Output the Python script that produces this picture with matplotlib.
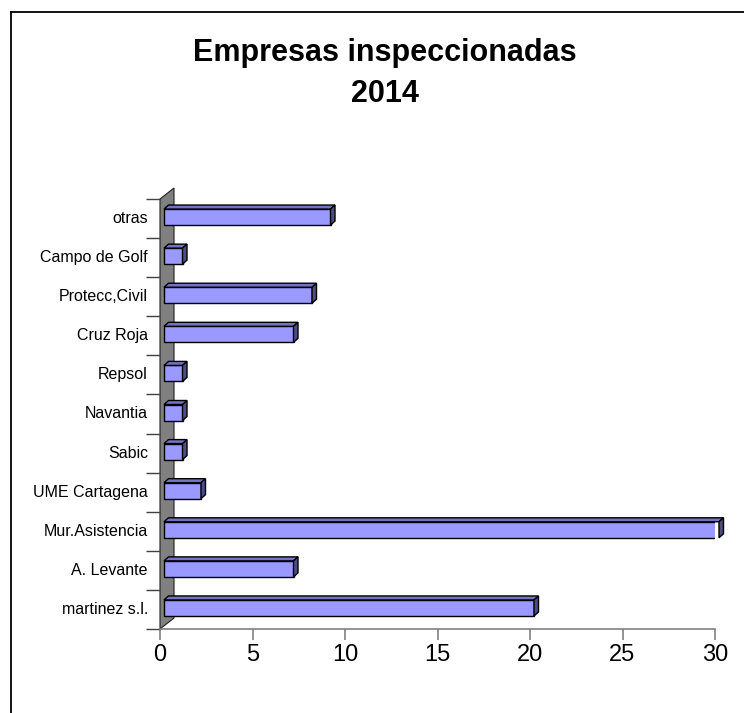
import numpy as np
import matplotlib
matplotlib.use("Agg")
import matplotlib.pyplot as plt
from matplotlib.patches import Polygon

# data (bottom to top, as drawn)
categories = ['martinez s.l.', 'A. Levante', 'Mur.Asistencia', 'UME Cartagena', 'Sabic',
              'Navantia', 'Repsol', 'Cruz Roja', 'Protecc,Civil', 'Campo de Golf', 'otras']
values = [20, 7, 30, 2, 1, 1, 1, 7, 8, 1, 9]
xticks = [0, 5, 10, 15, 20, 25, 30]

plt.rcParams['font.family'] = ['Liberation Sans', 'DejaVu Sans']

W, H = 744, 713
fig = plt.figure(figsize=(W / 100, H / 100), dpi=100)

# outer chart border (only left/top visible in the crop)
fig.add_artist(plt.Line2D([11 / W, 11 / W], [0, 1 - 12 / H], color='black', lw=1.3))
fig.add_artist(plt.Line2D([11 / W, 1], [1 - 12 / H, 1 - 12 / H], color='black', lw=1.3))

fig.text(385 / W, 1 - 53 / H, 'Empresas inspeccionadas', ha='center', va='center',
         fontsize=22, fontweight='bold')
fig.text(385 / W, 1 - 94 / H, '2014', ha='center', va='center',
         fontsize=22, fontweight='bold')

ax = fig.add_axes([160 / W, 84 / H, 555 / W, 430 / H])
ax.set_xlim(0, 30)
ax.set_ylim(-0.5, len(categories) - 0.5)
ax.patch.set_alpha(0)

# pixel -> data scale
px_x = 30 / 555.0
px_y = len(categories) / 430.0

# back wall (grey slab)
wall_dx = 14 * px_x
wall_dy = 11 * px_y
y0, y1 = -0.5, len(categories) - 0.5
wall = Polygon([(0, y0), (wall_dx, y0 + wall_dy), (wall_dx, y1 + wall_dy), (0, y1)],
               closed=True, facecolor='#808080', edgecolor='#202020', lw=0.8,
               clip_on=False, zorder=1)
ax.add_patch(wall)

# bars with 3D faces
dx = 4.5 * px_x
dy = 4 * px_y
bh = 16 * px_y
x_off = 4 * px_x
yc = np.arange(len(categories)) + 1.5 * px_y
ax.barh(yc, values, height=bh, left=x_off, color='#9999ff', edgecolor='black',
        lw=1.0, zorder=3)
for y, v in zip(yc, values):
    x1 = x_off + v
    top = Polygon([(x_off, y + bh / 2), (x_off + dx, y + bh / 2 + dy),
                   (x1 + dx, y + bh / 2 + dy), (x1, y + bh / 2)],
                  closed=True, facecolor='#7373c0', edgecolor='black', lw=1.0,
                  zorder=3, clip_on=False)
    side = Polygon([(x1, y - bh / 2), (x1 + dx, y - bh / 2 + dy),
                    (x1 + dx, y + bh / 2 + dy), (x1, y + bh / 2)],
                   closed=True, facecolor='#4d4d80', edgecolor='black', lw=1.0,
                   zorder=3, clip_on=False)
    ax.add_patch(top)
    ax.add_patch(side)

for s in ['top', 'right', 'left']:
    ax.spines[s].set_visible(False)
ax.spines['bottom'].set_color('#808080')
ax.spines['bottom'].set_linewidth(1.2)

ax.set_xticks(xticks)
ax.tick_params(axis='x', colors='#808080', length=8, width=1.2, labelsize=17,
               labelcolor='black', pad=3)

# category ticks sit on slot boundaries, labels in the middle
ax.set_yticks(np.arange(len(categories) + 1) - 0.5)
ax.set_yticklabels([])
ax.tick_params(axis='y', length=10, width=1.0, color='#404040')
for i, c in enumerate(categories):
    ax.text(-0.65, i, c, ha='right', va='center', fontsize=11.5,
            transform=ax.transData)

fig.savefig('out.png', dpi=100)
